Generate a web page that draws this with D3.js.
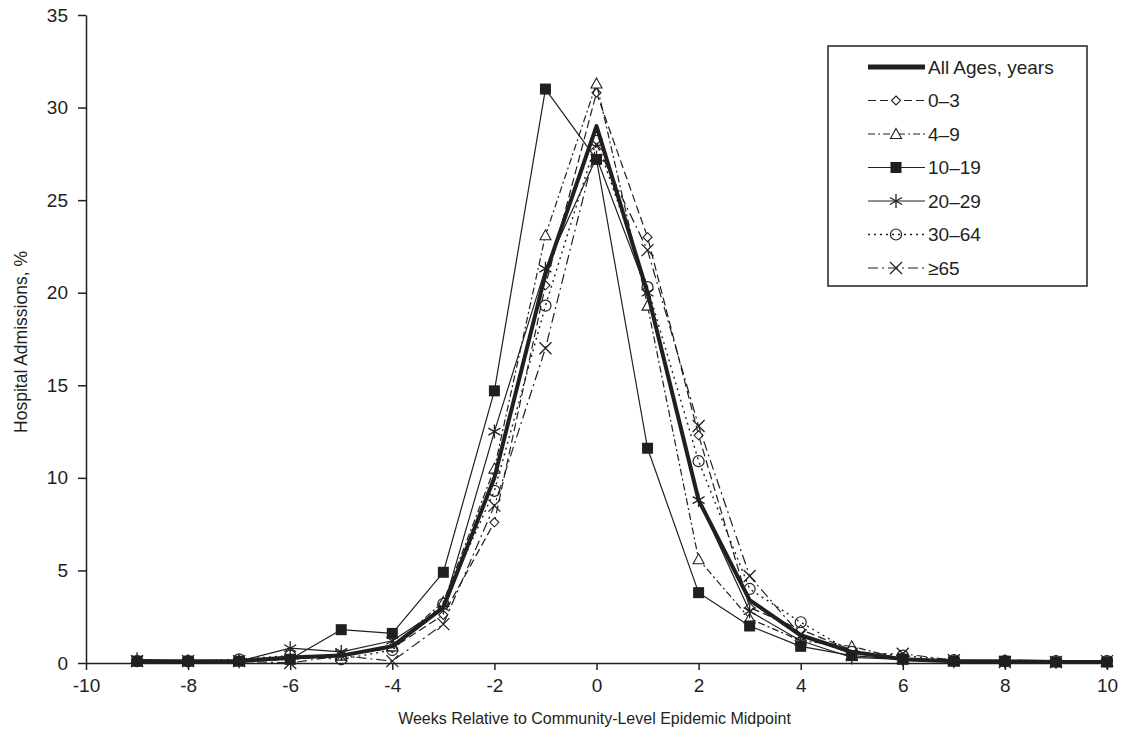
<!DOCTYPE html>
<html>
<head>
<meta charset="utf-8">
<script src="https://cdn.jsdelivr.net/npm/d3@7"></script>
<style>
  body { margin: 0; background: #fff; }
  svg text { font-family: "Liberation Sans", Arial, sans-serif; fill: #231f20; }
</style>
</head>
<body>
<div id="grafik"></div>
<script>
// weeks relative to midpoint
const weeks = [-9, -8, -7, -6, -5, -4, -3, -2, -1, 0, 1, 2, 3, 4, 5, 6, 7, 8, 9, 10];

// hospital admissions, %
const allAges = [0.1, 0.1, 0.1, 0.3, 0.4, 0.9, 3.0, 10.0, 21.0, 29.0, 20.0, 8.8, 3.4, 1.5, 0.6, 0.2, 0.1, 0.1, 0.05, 0.05];
const age0_3  = [0.1, 0.1, 0.1, 0.2, 0.4, 0.8, 2.6, 7.6, 20.4, 30.8, 23.0, 12.3, 3.0, 1.8, 0.7, 0.2, 0.1, 0.1, 0.05, 0.05];
const age4_9  = [0.1, 0.1, 0.1, 0.2, 0.4, 0.9, 3.3, 10.5, 23.1, 31.3, 19.3, 5.6, 2.4, 1.2, 0.9, 0.2, 0.1, 0.1, 0.05, 0.05];
const age10_19 = [0.1, 0.1, 0.1, 0.2, 1.8, 1.6, 4.9, 14.7, 31.0, 27.2, 11.6, 3.8, 2.0, 0.9, 0.4, 0.2, 0.1, 0.1, 0.05, 0.05];
const age20_29 = [0.2, 0.1, 0.1, 0.8, 0.6, 1.2, 3.0, 12.5, 21.3, 27.3, 20.0, 8.8, 2.8, 1.2, 0.3, 0.2, 0.1, 0.1, 0.05, 0.05];
const age30_64 = [0.1, 0.1, 0.2, 0.4, 0.2, 0.7, 3.2, 9.3, 19.3, 28.2, 20.3, 10.9, 4.0, 2.2, 0.6, 0.4, 0.15, 0.1, 0.1, 0.1];
const age65   = [0.1, 0.1, 0.1, 0.0, 0.4, 0.1, 2.1, 8.5, 17.0, 28.0, 22.3, 12.8, 4.7, 1.5, 0.5, 0.5, 0.15, 0.05, 0.05, 0.1];

const seriesNames = ["All Ages, years", "0\u20133", "4\u20139", "10\u201319", "20\u201329", "30\u201364", "\u226565"];
const seriesValues = [allAges, age0_3, age4_9, age10_19, age20_29, age30_64, age65];

const xTicks = [-10, -8, -6, -4, -2, 0, 2, 4, 6, 8, 10];
const yTicks = [0, 5, 10, 15, 20, 25, 30, 35];

// styling per series
const styles = [
  { width: 4,   dash: null,        marker: "none" },
  { width: 1.2, dash: "8,4",       marker: "diamond" },
  { width: 1.2, dash: "7,3,2,3",   marker: "triangle" },
  { width: 1.2, dash: null,        marker: "square" },
  { width: 1.2, dash: null,        marker: "asterisk" },
  { width: 1.4, dash: "2,4",       marker: "circle" },
  { width: 1.2, dash: "10,4,2,4",  marker: "cross" }
];

const ink = "#231f20";
const W = 1122, H = 736;
const margin = { top: 15, right: 15, bottom: 73, left: 86 };
const w = W - margin.left - margin.right;
const h = H - margin.top - margin.bottom;

const svg = d3.select("#grafik").append("svg")
  .attr("width", W).attr("height", H);
const g = svg.append("g").attr("transform", `translate(${margin.left},${margin.top})`);

const x = d3.scaleLinear().domain([-10, 10]).range([0, w]);
const y = d3.scaleLinear().domain([0, 35]).range([h, 0]);

// axes (plain hyphen for negatives, like the original)
const xAxis = g.append("g").attr("transform", `translate(0,${h})`)
  .call(d3.axisBottom(x).tickValues(xTicks).tickFormat(d => String(d))
    .tickSize(7).tickSizeOuter(0).tickPadding(9));
const yAxis = g.append("g")
  .call(d3.axisLeft(y).tickValues(yTicks).tickFormat(d => String(d))
    .tickSize(8).tickSizeOuter(0).tickPadding(10));
[xAxis, yAxis].forEach(a => {
  a.select(".domain").attr("stroke", ink).attr("stroke-width", 1.5);
  a.selectAll(".tick line").attr("stroke", ink).attr("stroke-width", 1.5);
  a.selectAll(".tick text").style("font-size", "19px").attr("fill", ink);
});

svg.append("text")
  .attr("x", margin.left + w / 2 - 2).attr("y", 724)
  .attr("text-anchor", "middle").style("font-size", "16px")
  .text("Weeks Relative to Community-Level Epidemic Midpoint");
svg.append("text")
  .attr("transform", `translate(27,${margin.top + h / 2 + 3}) rotate(-90)`)
  .attr("text-anchor", "middle").style("font-size", "17.5px")
  .text("Hospital Admissions, %");

// marker drawer
function drawMarker(sel, type) {
  if (type === "diamond") {
    sel.append("path").attr("d", "M0,-4.5L4.5,0L0,4.5L-4.5,0Z")
      .attr("fill", "#fff").attr("stroke", ink).attr("stroke-width", 1.1);
  } else if (type === "triangle") {
    sel.append("path").attr("d", "M0,-5.5L5.5,4.5L-5.5,4.5Z")
      .attr("fill", "#fff").attr("stroke", ink).attr("stroke-width", 1.1);
  } else if (type === "square") {
    sel.append("rect").attr("x", -5.5).attr("y", -5.5).attr("width", 11).attr("height", 11)
      .attr("fill", ink);
  } else if (type === "asterisk") {
    sel.append("path").attr("d", "M0,-7L0,7M-6,-3.5L6,3.5M-6,3.5L6,-3.5")
      .attr("fill", "none").attr("stroke", ink).attr("stroke-width", 1.3);
  } else if (type === "circle") {
    sel.append("circle").attr("r", 5.5)
      .attr("fill", "none").attr("stroke", ink).attr("stroke-width", 1.2);
  } else if (type === "cross") {
    sel.append("path").attr("d", "M-6,-6L6,6M-6,6L6,-6")
      .attr("fill", "none").attr("stroke", ink).attr("stroke-width", 1.3);
  }
}

const line = d3.line().x(d => x(d[0])).y(d => y(d[1]));

// thin series first, thick all-ages on top
const order = [1, 2, 3, 4, 5, 6, 0];
order.forEach(si => {
  const pts = weeks.map((wk, i) => [wk, seriesValues[si][i]]);
  const st = styles[si];
  g.append("path").datum(pts)
    .attr("d", line)
    .attr("fill", "none")
    .attr("stroke", ink)
    .attr("stroke-width", st.width)
    .attr("stroke-dasharray", st.dash)
    .attr("stroke-linejoin", "round");
  if (st.marker !== "none") {
    pts.forEach(p => {
      const m = g.append("g").attr("transform", `translate(${x(p[0])},${y(p[1])})`);
      drawMarker(m, st.marker);
    });
  }
});

// legend
const lgX = 828, lgY = 46, lgW = 259, lgH = 240, rowH = 33.5;
const lg = svg.append("g");
lg.append("rect").attr("x", lgX).attr("y", lgY).attr("width", lgW).attr("height", lgH)
  .attr("fill", "#fff").attr("stroke", ink).attr("stroke-width", 1.5);
seriesNames.forEach((name, i) => {
  const ry = lgY + 21 + i * rowH;
  const st = styles[i];
  lg.append("line").attr("x1", lgX + 40).attr("x2", lgX + 97)
    .attr("y1", ry).attr("y2", ry)
    .attr("stroke", ink).attr("stroke-width", i === 0 ? 5 : st.width)
    .attr("stroke-dasharray", st.dash);
  if (st.marker !== "none") {
    const m = lg.append("g").attr("transform", `translate(${lgX + 68},${ry})`);
    drawMarker(m, st.marker);
  }
  lg.append("text").attr("x", lgX + 100).attr("y", ry).attr("dy", "0.35em")
    .style("font-size", "19px").text(name);
});
</script>
</body>
</html>
